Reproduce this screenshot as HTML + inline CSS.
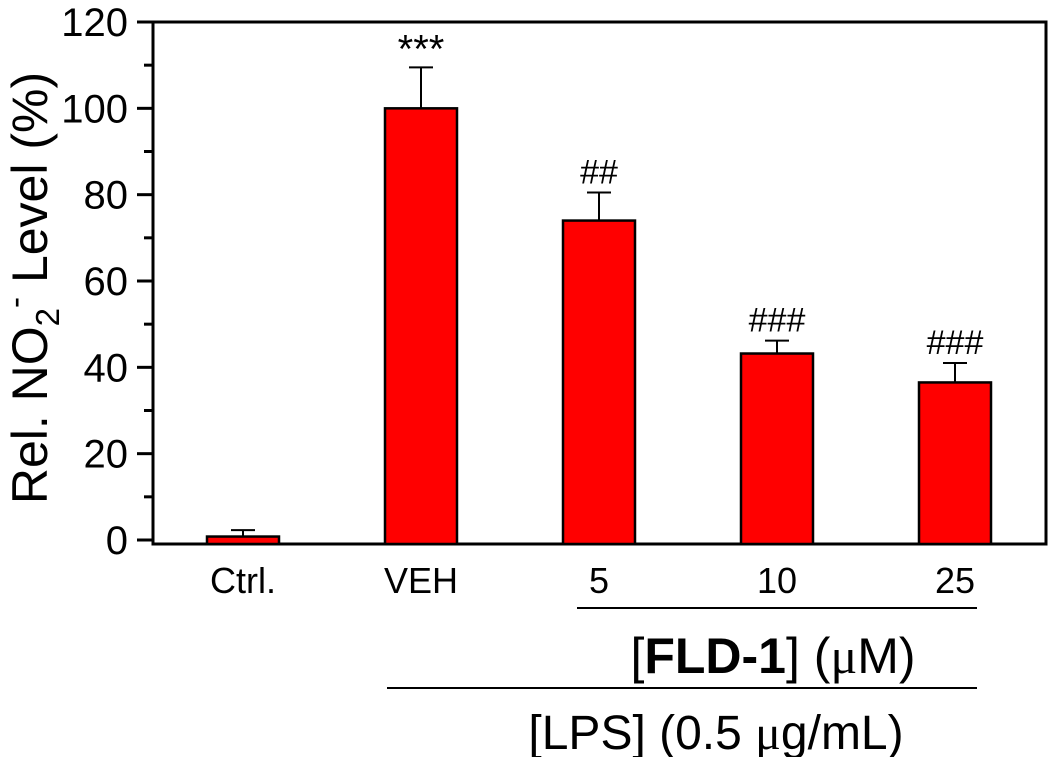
<!DOCTYPE html>
<html><head><meta charset="utf-8"><style>
html,body{margin:0;padding:0;background:#fff}
svg text{font-family:"Liberation Sans",Arial,sans-serif;fill:#000}
</style></head><body>
<svg id="chart" width="1050" height="757" viewBox="0 0 1050 757" xmlns="http://www.w3.org/2000/svg">
<g id="axes"></g><g id="bars"></g>
<text transform="translate(47,288) rotate(-90)" text-anchor="middle" font-size="50">Rel. NO<tspan font-size="33" dy="12">2</tspan><tspan font-size="33" dy="-33">-</tspan><tspan dy="21"> Level (%)</tspan></text>
<line x1="577" y1="608" x2="977" y2="608" stroke="#000" stroke-width="2"/>
<text x="773" y="673" text-anchor="middle" font-size="50">[<tspan font-weight="bold">FLD-1</tspan>] (<tspan font-family="Liberation Serif">μ</tspan>M)</text>
<line x1="387" y1="688" x2="977" y2="688" stroke="#000" stroke-width="2"/>
<text x="716" y="749" text-anchor="middle" font-size="48">[LPS] (0.5 <tspan font-family="Liberation Serif">μ</tspan>g/mL)</text>
</svg>
<script>
const categories=["Ctrl.","VEH","5","10","25"];
const values=[0.8,100,74,43.2,36.5];
const errors=[1.5,9.5,6.5,3,4.5];
const marks=["","***","##","###","###"];
const yTicks=[0,20,40,60,80,100,120];
const NS="http://www.w3.org/2000/svg";
const X0=153,X1=1046,Y0=540,Y120=22,AXB=544;
const y=v=>Y0-(v/120)*(Y0-Y120);
const x=i=>243+i*178;
const BW=72;
function mk(tag,attrs,parent,txt){const e=document.createElementNS(NS,tag);for(const k in attrs)e.setAttribute(k,attrs[k]);if(txt!==undefined)e.textContent=txt;parent.appendChild(e);return e;}
const ax=document.getElementById('axes'),bg=document.getElementById('bars');
const frame=mk('path',{d:`M${X0},${Y120} H${X1} V${AXB} H${X0} Z`,fill:'none',stroke:'#000','stroke-width':3},ax);


yTicks.forEach(t=>{
 const l=mk('line',{x1:137,x2:X0,y1:y(t),y2:y(t),stroke:'#000','stroke-width':3},ax);
 
 
 const tx=mk('text',{x:128,y:y(t)+14,'text-anchor':'end','font-size':40},ax,String(t));
 
 
 if(t<120){const m=mk('line',{x1:144,x2:X0,y1:y(t+10),y2:y(t+10),stroke:'#000','stroke-width':3},ax);
 
 }
});
categories.forEach((c,i)=>{
 const cx=x(i);
 const r=mk('rect',{x:cx-BW/2,y:y(values[i]),width:BW,height:AXB-y(values[i]),fill:'#ff0000',stroke:'#000','stroke-width':2.5},bg);
 
 
 const te=y(values[i]+errors[i]);
 const e=mk('path',{d:`M${cx},${y(values[i])} V${te} M${cx-12},${te} H${cx+12}`,stroke:'#000','stroke-width':2,fill:'none'},bg);
 
 
 if(marks[i]){const star=marks[i]==='***';
 const s=mk('text',{x:cx,y:star?te-5:te-9,'text-anchor':'middle','font-size':star?40:34,'font-family':star?'Liberation Sans':'Liberation Serif'},bg,marks[i]);
 
 }
 const lb=mk('text',{x:cx,y:593,'text-anchor':'middle','font-size':36},bg,c);
 
 
});
</script>
</body></html>
